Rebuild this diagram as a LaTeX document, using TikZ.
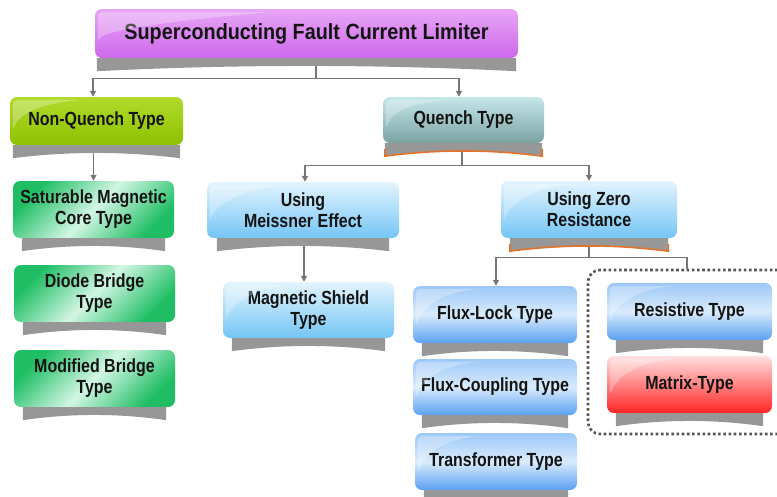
\documentclass[tikz,border=0pt]{standalone}
\usepackage{fontspec}
\setmainfont{Liberation Sans}[FakeStretch=0.84]
\newfontfamily\titlefont{Liberation Sans}[FakeStretch=0.9]
\usetikzlibrary{arrows.meta,calc}
\definecolor{titA}{HTML}{E7A6F5}
\definecolor{titB}{HTML}{CD68EC}
\definecolor{nqA}{HTML}{B2DB2C}
\definecolor{nqB}{HTML}{8CC100}
\definecolor{qA}{HTML}{C6E7EA}
\definecolor{qB}{HTML}{7BA2A3}
\definecolor{grA}{HTML}{1FBE64}
\definecolor{grL}{HTML}{D2F6E4}
\definecolor{lbA}{HTML}{E3F4FD}
\definecolor{lbB}{HTML}{74C5F6}
\definecolor{fbA}{HTML}{9CC8F7}
\definecolor{fbM}{HTML}{D9EBFC}
\definecolor{fbB}{HTML}{5AA1F2}
\definecolor{rdA}{HTML}{FFE0E0}
\definecolor{rdB}{HTML}{FF2424}
\definecolor{shgray}{HTML}{979797}
\definecolor{lnk}{HTML}{767676}
\definecolor{orng}{HTML}{E2732A}
\definecolor{dotc}{HTML}{555555}
\newcommand\shadowbar[2]{%
  \coordinate (sA) at ([xshift=#2]#1.south west);
  \coordinate (sB) at ([xshift=-#2]#1.south east);
  \coordinate (sC) at ([xshift=-#2,yshift=-13pt]#1.south east);
  \coordinate (sD) at ([xshift=#2,yshift=-13pt]#1.south west);
  \fill[shgray] (sA) -- (sB) -- (sC) .. controls ($(sC)!.33!(sD)+(0,-7)$) and ($(sC)!.67!(sD)+(0,-7)$) .. (sD) -- cycle;}
\newcommand\orangeedge{%
  \draw[orng,line width=1.6pt] ($(sA)!.45!(sD)$) -- (sD) .. controls ($(sD)!.33!(sC)+(0,-7)$) and ($(sD)!.67!(sC)+(0,-7)$) .. (sC) -- ($(sB)!.45!(sC)$);}
\newcommand\glossy[1]{%
  \fill[white,opacity=0.28,rounded corners=5pt] ([xshift=3pt,yshift=-3pt]#1.north west) -- ([yshift=-3pt]$(#1.north west)!.42!(#1.north east)$)
    .. controls +(-45pt,-4pt) and +(6pt,16pt) .. ([xshift=3pt]$(#1.north west)!.7!(#1.south west)$) -- cycle;}
\tikzset{
  fcbox/.style={rounded corners=7pt, inner sep=0pt, align=center, text=black!92,
    font=\bfseries\fontsize{19}{21}\selectfont},
  titlebox/.style={fcbox, top color=titA, bottom color=titB, font=\titlefont\bfseries\fontsize{22}{24}\selectfont},
  nqbox/.style={fcbox, top color=nqA, bottom color=nqB},
  qbox/.style={fcbox, top color=qA, bottom color=qB},
  grbox/.style={fcbox, top color=grA, bottom color=grA, middle color=grL, shading angle=45},
  lbbox/.style={fcbox, top color=lbA, bottom color=lbB},
  fbbox/.style={fcbox, top color=fbA, bottom color=fbB, middle color=fbM},
  rdbox/.style={fcbox, top color=rdA, bottom color=rdB},
  conn/.style={draw=lnk, line width=1.4pt},
  arrow/.style={conn, -{Triangle[length=6pt,width=6pt]}},
  dotbox/.style={draw=dotc, line width=2.6pt, dash pattern=on 2.6pt off 2.6pt, rounded corners=12pt}
}
\begin{document}
\begin{tikzpicture}[x=1pt,y=-1pt]
\useasboundingbox (0,0) rectangle (777,496);
% nodes
\node[titlebox, minimum width=423pt, minimum height=49pt] (title) at (306.5,33.5) {Superconducting Fault Current Limiter};
\node[nqbox, minimum width=173pt, minimum height=48pt] (nq) at (96.5,121) {Non-Quench Type};
\node[qbox, minimum width=161pt, minimum height=46pt] (q) at (463.5,120) {Quench Type};
\node[grbox, minimum width=161pt, minimum height=57pt] (sat) at (93.5,209.5) {Saturable Magnetic\\Core Type};
\node[grbox, minimum width=161pt, minimum height=57pt] (diode) at (94.5,293.5) {Diode Bridge\\Type};
\node[grbox, minimum width=161pt, minimum height=57pt] (mod) at (94.5,378.5) {Modified Bridge\\Type};
\node[lbbox, minimum width=192pt, minimum height=56pt] (meis) at (303,210) {Using\\Meissner Effect};
\node[lbbox, minimum width=176pt, minimum height=57pt] (zero) at (589,209.5) {Using Zero\\Resistance};
\node[lbbox, minimum width=171pt, minimum height=56pt] (shield) at (308.5,310) {Magnetic Shield\\Type};
\node[fbbox, minimum width=164pt, minimum height=57pt] (flock) at (495,314.5) {Flux-Lock Type};
\node[fbbox, minimum width=164pt, minimum height=56pt] (fcoup) at (495,387) {Flux-Coupling Type};
\node[fbbox, minimum width=162pt, minimum height=57pt] (trans) at (496,461.5) {Transformer Type};
\node[fbbox, minimum width=165pt, minimum height=57pt] (resist) at (689.5,311.5) {Resistive Type};
\node[rdbox, minimum width=165pt, minimum height=57pt] (matrix) at (689.5,384.5) {Matrix-Type};
\node[dotbox, minimum width=212pt, minimum height=164pt] (grp) at (694,352) {};
% connectors
\draw[arrow] ([xshift=9.5pt]title.south) -- ++(0,20) -| ([xshift=-3.5pt]nq.north);
\draw[arrow] ([xshift=9.5pt]title.south) -- ++(0,20) -| ([xshift=-4.5pt]q.north);
\draw[arrow] (sat.north |- nq.south) -- (sat.north);
\draw[arrow] ([xshift=-1.5pt]q.south) -- ++(0,22) -| ([xshift=2pt]meis.north);
\draw[arrow] ([xshift=-1.5pt]q.south) -- ++(0,22) -| (zero.north);
\draw[arrow] ([xshift=1pt]meis.south) -- ([xshift=1pt]meis.south |- shield.north);
\draw[arrow] (zero.south) -- ++(0,19) -| ([xshift=1pt]flock.north);
\draw[conn] (zero.south) -- ++(0,19) -| ([xshift=-7pt]grp.north);
% shadows
\shadowbar{title}{2pt}
\shadowbar{nq}{3pt}
\shadowbar{q}{2pt}\orangeedge
\shadowbar{sat}{9pt}
\shadowbar{diode}{9pt}
\shadowbar{mod}{9pt}
\shadowbar{meis}{10pt}
\shadowbar{zero}{9pt}\orangeedge
\shadowbar{shield}{9pt}
\shadowbar{flock}{9pt}
\shadowbar{fcoup}{9pt}
\shadowbar{trans}{9pt}
\shadowbar{resist}{9pt}
\shadowbar{matrix}{9pt}
% gloss highlights
\foreach \n in {title,nq,q,meis,zero,shield,flock,fcoup,trans,resist,matrix}{\glossy{\n}}
\end{tikzpicture}
\end{document}
